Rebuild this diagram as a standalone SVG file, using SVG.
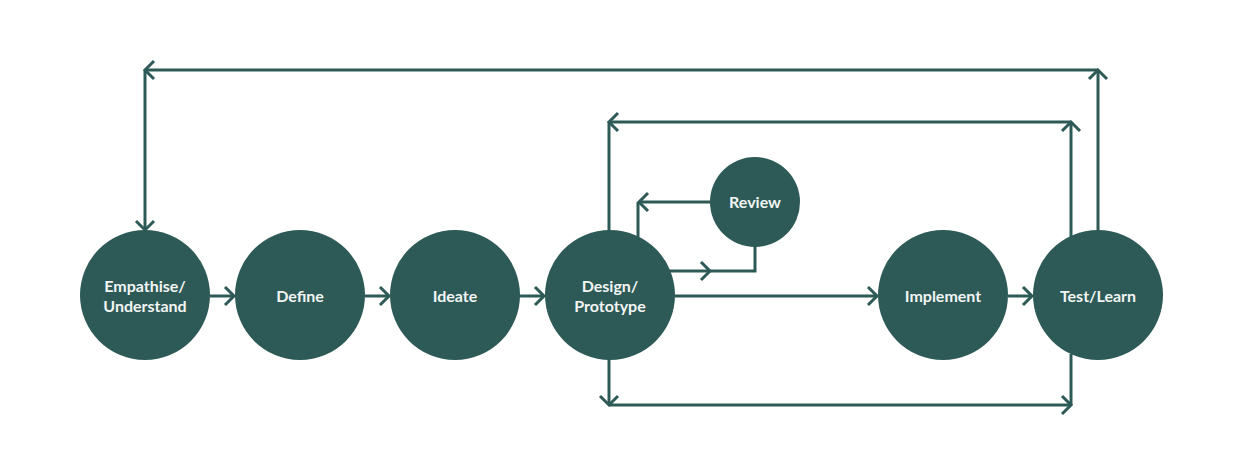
<svg xmlns="http://www.w3.org/2000/svg" width="1250" height="466" viewBox="0 0 1250 466">
<style>
.node{fill:#2d5a56}
.lbl{fill:#f2f5f4;font-family:Lato,"Open Sans",sans-serif;font-weight:700;font-size:16px;text-anchor:middle}
.ln{fill:none;stroke:#2d5a56;stroke-width:3}
</style>
<defs>
<marker id="ah" markerUnits="userSpaceOnUse" viewBox="-12 -12 14 24" refX="0" refY="0" markerWidth="14" markerHeight="24" orient="auto" overflow="visible">
<path d="M-9,-9 L0,0 L-9,9" fill="none" stroke="#2d5a56" stroke-width="3"/>
</marker>
</defs>
<rect width="1250" height="466" fill="#ffffff"/>
<g id="connectors">
<line class="ln" x1="210" y1="296" x2="234" y2="296" marker-end="url(#ah)"/>
<line class="ln" x1="365" y1="296" x2="389" y2="296" marker-end="url(#ah)"/>
<line class="ln" x1="519" y1="296" x2="544" y2="296" marker-end="url(#ah)"/>
<line class="ln" x1="675" y1="296" x2="877" y2="296" marker-end="url(#ah)"/>
<line class="ln" x1="1008" y1="296" x2="1032" y2="296" marker-end="url(#ah)"/>
<line class="ln" x1="1098" y1="231" x2="1098" y2="70" marker-end="url(#ah)"/>
<line class="ln" x1="1098" y1="70" x2="145" y2="70" marker-end="url(#ah)"/>
<line class="ln" x1="145" y1="70" x2="145" y2="230" marker-end="url(#ah)"/>
<line class="ln" x1="1071" y1="237" x2="1071" y2="122" marker-end="url(#ah)"/>
<line class="ln" x1="1071" y1="122" x2="609" y2="122" marker-end="url(#ah)"/>
<line class="ln" x1="609" y1="122" x2="609" y2="232"/>
<line class="ln" x1="609" y1="359" x2="609" y2="405" marker-end="url(#ah)"/>
<line class="ln" x1="609" y1="405" x2="1071" y2="405" marker-end="url(#ah)"/>
<line class="ln" x1="1071" y1="405" x2="1071" y2="354"/>
<line class="ln" x1="668" y1="271" x2="710" y2="271" marker-end="url(#ah)"/>
<polyline class="ln" points="710,271 755,271 755,246"/>
<line class="ln" x1="711" y1="202" x2="639" y2="202" marker-end="url(#ah)"/>
<line class="ln" x1="638" y1="202" x2="638" y2="238"/>
</g>
<g id="empathise"><circle class="node" cx="145" cy="295" r="65"/><text class="lbl" x="145" y="292">Empathise/</text><text class="lbl" x="145" y="312">Understand</text></g>
<g id="define"><circle class="node" cx="300" cy="295" r="65"/><text class="lbl" x="300" y="302">Define</text></g>
<g id="ideate"><circle class="node" cx="455" cy="295" r="65"/><text class="lbl" x="455" y="302">Ideate</text></g>
<g id="design"><circle class="node" cx="610" cy="295" r="65"/><text class="lbl" x="610" y="292">Design/</text><text class="lbl" x="610" y="312">Prototype</text></g>
<g id="review"><circle class="node" cx="755" cy="202" r="45"/><text class="lbl" x="755" y="208">Review</text></g>
<g id="implement"><circle class="node" cx="943" cy="295" r="65"/><text class="lbl" x="943" y="302">Implement</text></g>
<g id="test"><circle class="node" cx="1098" cy="295" r="65"/><text class="lbl" x="1098" y="302">Test/Learn</text></g>
</svg>
